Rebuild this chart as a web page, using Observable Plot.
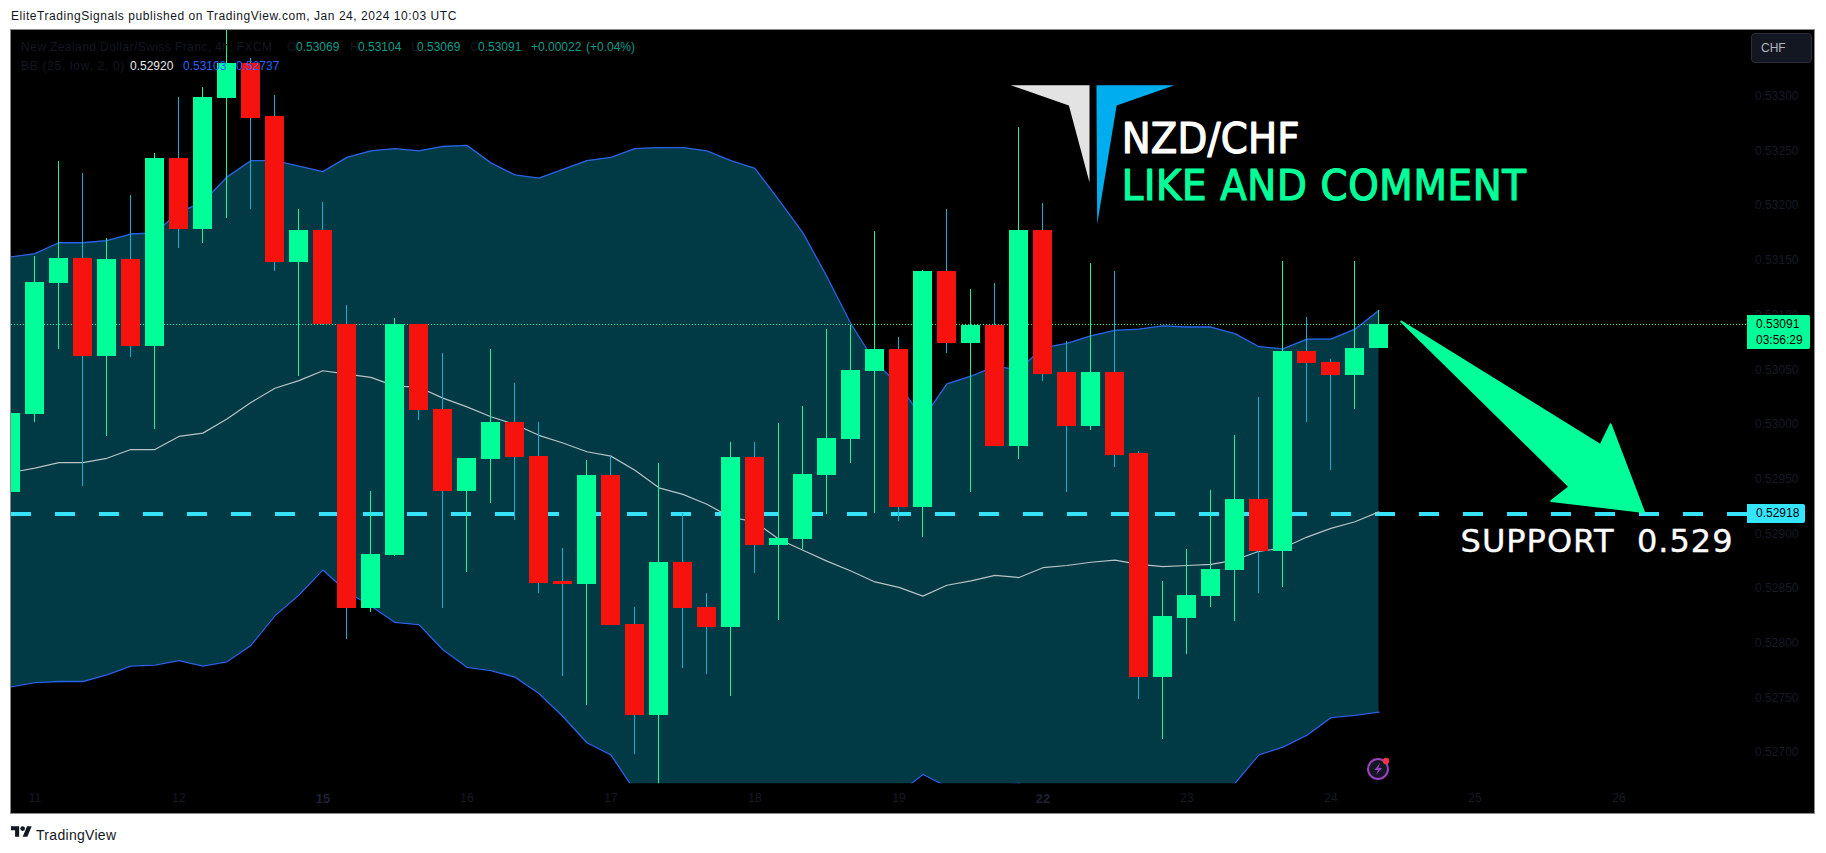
<!DOCTYPE html>
<html><head><meta charset="utf-8">
<script src="https://cdn.jsdelivr.net/npm/d3@7"></script>
<script src="https://cdn.jsdelivr.net/npm/@observablehq/plot@0.6"></script>
<style>
html,body{margin:0;padding:0;background:#fff;}
body{width:1826px;height:853px;position:relative;overflow:hidden;font-family:"Liberation Sans",Arial,sans-serif;}
.abs{position:absolute;white-space:pre;line-height:14px;font-size:12px;}
#frame{position:absolute;left:10px;top:29px;width:1805px;height:785px;box-sizing:border-box;border:1px solid #8a8a8a;background:#000;overflow:hidden;}
#chart svg{display:block;background:#000;}
.leg{color:#131722;}
.val{color:#0f9c88;}
.blu{color:#2962ff;}
.tag{position:absolute;left:1747px;border-radius:0 2px 2px 0;}
</style></head>
<body>
<div class="abs" style="left:11px;top:9px;color:#131722;letter-spacing:.55px" id="hdr">EliteTradingSignals published on TradingView.com, Jan 24, 2024 10:03 UTC</div>
<div id="frame"><div id="chart"></div></div>

<div class="abs leg" style="left:21px;top:40px;letter-spacing:.42px">New Zealand Dollar/Swiss Franc, 4h, FXCM</div>
<div class="abs leg" style="left:287px;top:40px">O</div><div class="abs val" style="left:296px;top:40px">0.53069</div>
<div class="abs leg" style="left:350px;top:40px">H</div><div class="abs val" style="left:358px;top:40px">0.53104</div>
<div class="abs leg" style="left:411px;top:40px">L</div><div class="abs val" style="left:417px;top:40px">0.53069</div>
<div class="abs leg" style="left:470px;top:40px">C</div><div class="abs val" style="left:478px;top:40px">0.53091</div>
<div class="abs val" style="left:531px;top:40px">+0.00022</div><div class="abs val" style="left:586px;top:40px">(+0.04%)</div>
<div class="abs leg" style="left:21px;top:59px;letter-spacing:.7px">BB (25, low, 2, 0)</div>
<div class="abs" style="left:130px;top:59px;color:#e8e8e8">0.52920</div>
<div class="abs blu" style="left:183px;top:59px">0.53103</div>
<div class="abs blu" style="left:236px;top:59px">0.52737</div>

<div style="position:absolute;left:1751px;top:33px;width:61px;height:30px;box-sizing:border-box;background:#131722;border:1px solid #2a2e39;border-radius:4px"></div>
<div class="abs" style="left:1761px;top:41px;color:#b2b5be">CHF</div>

<div class="tag" style="top:315px;width:63px;height:34px;background:#00ff99"></div>
<div class="abs" style="left:1756px;top:317px;color:#000">0.53091</div>
<div class="abs" style="left:1756px;top:333px;color:#000">03:56:29</div>
<div class="tag" style="top:504px;width:58px;height:19px;background:#33e5ff"></div>
<div class="abs" style="left:1756px;top:506px;color:#000">0.52918</div>

<svg style="position:absolute;left:1366px;top:757px" width="26" height="24" viewBox="0 0 26 24">
<circle cx="12" cy="12" r="10" fill="#131722" stroke="#9c3fc0" stroke-width="2"/>
<path d="M14 6 L8.5 13 L12 13 L10 18 L16 11 L12.5 11 Z" fill="#9c3fc0"/>
<circle cx="20" cy="4" r="3.2" fill="#f23645"/>
</svg>

<svg style="position:absolute;left:11px;top:825px" width="21" height="13" viewBox="0 3 36 20"><path d="M14 22H7V11H0V4h14v18zM28 22h-8l7.5-18h8L28 22z" fill="#131722"/><circle cx="20" cy="8" r="4" fill="#131722"/></svg>
<div class="abs" style="left:36px;top:827px;font-size:14px;line-height:16px;color:#131722;letter-spacing:.3px">TradingView</div>

<script>
const firstBar = -1;
const opens = [.52938,.53009,.53129,.53152,.53062,.53151,.53071,.53243,.53178,.53298,.53330,.53281,.53148,.53177,.53091,.52832,.52880,.53091,.53014,.52939,.52968,.53002,.52971,.52856,.52854,.52953,.52817,.52734,.52874,.52833,.52814,.52970,.52889,.52895,.52953,.52986,.53048,.53068,.52924,.53140,.53074,.53090,.52980,.53177,.53047,.52998,.53047,.52973,.52769,.52823,.52843,.52866,.52931,.52884,.53067,.53057,.53045,.53069];
const highs = [.53022,.53153,.53240,.53229,.53170,.53209,.53248,.53299,.53308,.53365,.53334,.53301,.53196,.53203,.53109,.52939,.53097,.53091,.53065,.52969,.53068,.53037,.53002,.52887,.52967,.52971,.52833,.52964,.52919,.52845,.52983,.52983,.53001,.53016,.53087,.53090,.53176,.53079,.53141,.53196,.53123,.53129,.53271,.53202,.53076,.53147,.53140,.52975,.52856,.52886,.52940,.52990,.53025,.53149,.53098,.53059,.53149,.53104];
const lows = [.52930,.53002,.53068,.52943,.52989,.53061,.52995,.53161,.53165,.53188,.53196,.53140,.53044,.53090,.52803,.52828,.52879,.53004,.52832,.52865,.52928,.52912,.52845,.52770,.52743,.52816,.52698,.52665,.52777,.52771,.52751,.52864,.52821,.52886,.52918,.52964,.52919,.52911,.52897,.53065,.52938,.52980,.52968,.53039,.52938,.52994,.52961,.52749,.52712,.52790,.52833,.52820,.52845,.52851,.53002,.52958,.53014,.53069];
const closes = [.53010,.53130,.53152,.53062,.53151,.53071,.53243,.53178,.53299,.53330,.53280,.53148,.53177,.53091,.52832,.52881,.53091,.53013,.52939,.52969,.53002,.52970,.52855,.52854,.52953,.52816,.52734,.52874,.52832,.52814,.52970,.52889,.52896,.52954,.52987,.53049,.53068,.52924,.53140,.53074,.53090,.52980,.53177,.53046,.52998,.53047,.52972,.52769,.52824,.52844,.52867,.52931,.52884,.53067,.53056,.53045,.53069,.53091];
const bbUpper = [.53153,.53156,.53166,.53166,.53168,.53174,.53175,.53194,.53203,.53226,.53241,.53241,.53236,.53231,.53244,.53250,.53252,.53250,.53254,.53255,.53239,.53228,.53225,.53233,.53241,.53244,.53252,.53253,.53253,.53250,.53241,.53234,.53205,.53175,.53135,.53092,.53057,.53036,.53005,.53037,.53044,.53053,.53050,.53070,.53074,.53081,.53086,.53087,.53090,.53089,.53089,.53083,.53071,.53069,.53078,.53078,.53087,.53104];
const bbBasis = [.52956,.52960,.52965,.52965,.52969,.52977,.52977,.52989,.52992,.53005,.53020,.53033,.53040,.53049,.53046,.53043,.53035,.53034,.53024,.53016,.53007,.53000,.52990,.52983,.52975,.52971,.52958,.52942,.52936,.52927,.52915,.52911,.52895,.52885,.52875,.52866,.52856,.52851,.52843,.52853,.52857,.52862,.52860,.52869,.52871,.52874,.52876,.52872,.52870,.52871,.52872,.52876,.52884,.52887,.52897,.52905,.52911,.52920];
const bbLower = [.52760,.52764,.52765,.52765,.52771,.52779,.52780,.52784,.52779,.52783,.52798,.52825,.52844,.52867,.52847,.52834,.52819,.52817,.52794,.52778,.52775,.52769,.52754,.52733,.52709,.52698,.52665,.52652,.52642,.52633,.52633,.52638,.52642,.52645,.52647,.52652,.52656,.52663,.52680,.52669,.52667,.52669,.52672,.52661,.52656,.52652,.52656,.52652,.52649,.52654,.52661,.52672,.52698,.52705,.52716,.52732,.52734,.52737];

const lastPrice = .53091;
const supportLevel = .52918;
const dayBars = [0,6,18,24,30,36,48,54,60,66];
const dayLabels = ["11","12","16","17","18","19","23","24","25","26"];
const weekBars = [12,42];
const weekLabels = ["15","22"];
const priceTicks = [.527,.5275,.528,.5285,.529,.5295,.53,.5305,.531,.5315,.532,.5325,.533];

const arrowBar = [56.93,65.23,65.65,67.04,63.18,63.94];
const arrowPrice = [.53094,.52981,.53000,.52920,.52930,.52943];
const logoGreyBar = [40.65,43.94,43.94,43.08];
const logoGreyPrice = [.53310,.53310,.53221,.532915];
const logoBlueBar = [44.23,47.48,45.07,44.26];
const logoBluePrice = [.53310,.53310,.532915,.53183];

const GREEN="#00ff99", RED="#f7130d", CYAN="#00b4d8", BAND="#013a44", BLUE="#2a62e6";
const bars = opens.map((o,k)=>({i:k+firstBar,o,h:highs[k],l:lows[k],c:closes[k],up:closes[k]>=o,u:bbUpper[k],m:bbBasis[k],d:bbLower[k]}));
const pts=(xs,ys)=>xs.map((x,k)=>({x,y:ys[k]}));
const poly=(xs,ys,c,sw)=>Plot.line(pts(xs,ys),{x:"x",y:"y",fill:c,stroke:c,strokeWidth:sw,strokeLinejoin:"round",curve:"linear-closed"});
const T="#161a26";
const COND="'DejaVu Sans Condensed','DejaVu Sans',sans-serif";

const chart = Plot.plot({
  width:1803,height:783,marginLeft:0,marginRight:66.4,marginTop:0,marginBottom:29.7,
  style:{background:"#000",fontFamily:"'Liberation Sans',Arial,sans-serif",overflow:"hidden"},
  x:{domain:[-0.975,71.38],axis:null},
  y:{domain:[.526715,.5336],axis:null},
  marks:[
    Plot.areaY(bars,{x:"i",y1:"d",y2:"u",fill:BAND,clip:true}),
    Plot.ruleY([supportLevel],{stroke:"#35e3fb",strokeWidth:4,strokeDasharray:"20,24"}),
    Plot.lineY(bars,{x:"i",y:"u",stroke:BLUE,strokeWidth:1.3,clip:true}),
    Plot.lineY(bars,{x:"i",y:"d",stroke:BLUE,strokeWidth:1.3,clip:true}),
    Plot.lineY(bars,{x:"i",y:"m",stroke:"#b7c3c6",strokeWidth:1.2,clip:true}),
    Plot.ruleX(bars,{x:"i",y1:"l",y2:"h",stroke:d=>d.up?GREEN:CYAN,strokeWidth:1,clip:true,shapeRendering:"crispEdges"}),
    Plot.ruleY([lastPrice],{stroke:GREEN,strokeWidth:1,strokeDasharray:"1,2",shapeRendering:"crispEdges"}),
    Plot.rect(bars,{x1:d=>d.i-0.396,x2:d=>d.i+0.396,y1:"o",y2:"c",fill:d=>d.up?GREEN:RED,clip:true,shapeRendering:"crispEdges"}),
    poly(arrowBar,arrowPrice,GREEN,2),
    poly(logoGreyBar,logoGreyPrice,"#e3e3e3",0),
    poly(logoBlueBar,logoBluePrice,"#00adef",0),
    Plot.text(["NZD/CHF"],{x:45.28,y:.53261,text:d=>d,fill:"#fff",stroke:"#fff",strokeWidth:1.2,fontSize:43,fontFamily:COND,textAnchor:"start",lineAnchor:"middle"}),
    Plot.text(["LIKE AND COMMENT"],{x:45.28,y:.53218,text:d=>d,fill:GREEN,stroke:GREEN,strokeWidth:1.2,fontSize:43,fontFamily:COND,textAnchor:"start",lineAnchor:"middle"}),
    Plot.text(["SUPPORT\u00a0\u00a00.529"],{x:59.4,y:.52893,text:d=>d,fill:"#fff",stroke:"#fff",strokeWidth:0.4,fontSize:32,fontFamily:"'DejaVu Sans',sans-serif",textAnchor:"start",lineAnchor:"middle"}),
    Plot.axisY(priceTicks,{anchor:"right",tickSize:0,tickPadding:7,tickFormat:d3.format(".5f"),color:T,fontSize:12,label:null}),
    Plot.axisX(dayBars,{anchor:"bottom",tickSize:0,tickPadding:10,tickFormat:d=>dayLabels[dayBars.indexOf(d)],color:T,fontSize:12,label:null}),
    Plot.axisX(weekBars,{anchor:"bottom",tickSize:0,tickPadding:10,tickFormat:d=>weekLabels[weekBars.indexOf(d)],color:"#1c2233",fontSize:13,fontWeight:"bold",label:null})
  ]
});
const noteSpacing = ["0.2px","0.7px","1px"];
chart.querySelectorAll('g[aria-label="text"]').forEach((g,k)=>{ g.style.letterSpacing = noteSpacing[k]; });
document.getElementById("chart").append(chart);
</script>
</body></html>
